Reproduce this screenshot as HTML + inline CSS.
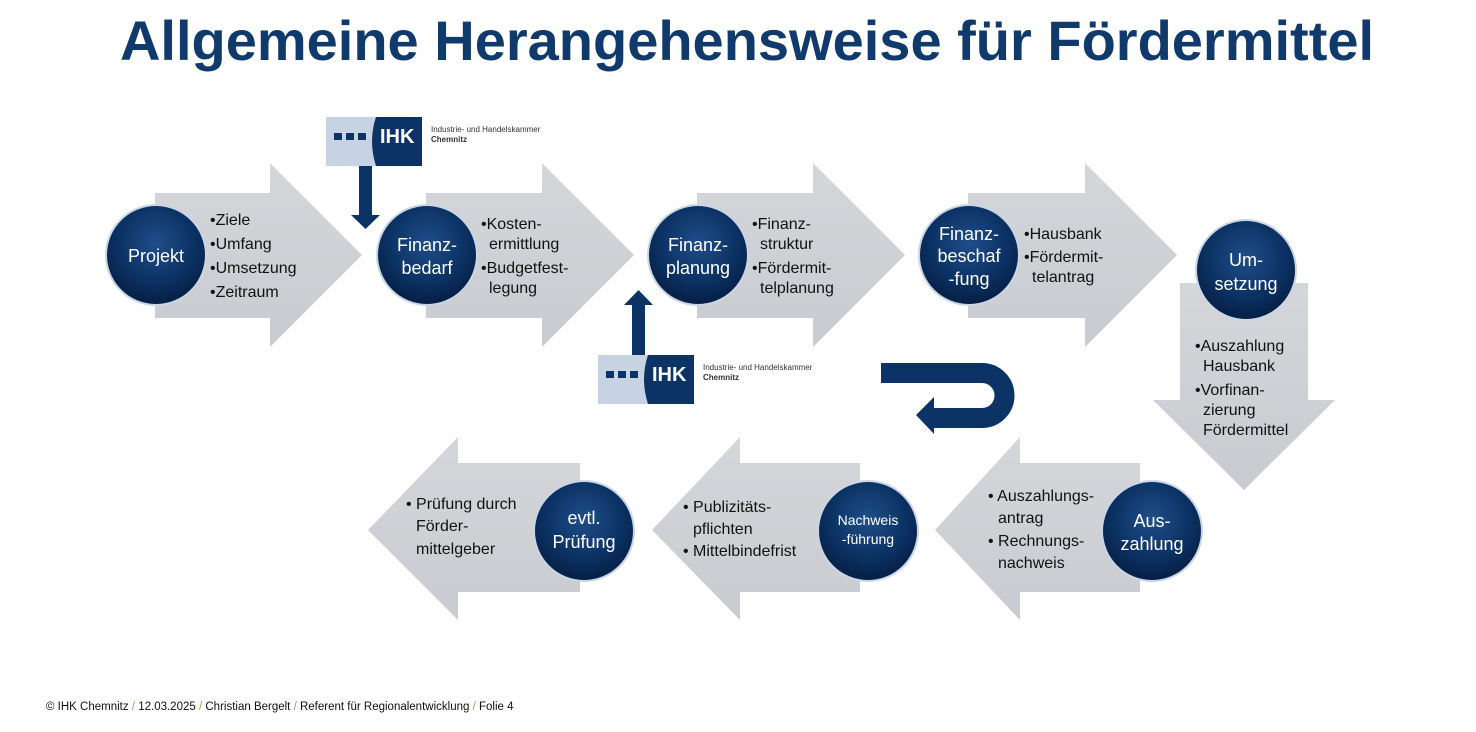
<!DOCTYPE html>
<html><head><meta charset="utf-8"><style>
html,body{margin:0;padding:0;background:#fff;width:1476px;height:732px;overflow:hidden}
svg text{font-family:"Liberation Sans",sans-serif}
</style></head><body>
<svg width="1476" height="732" viewBox="0 0 1476 732" xmlns="http://www.w3.org/2000/svg">
<defs>
<radialGradient id="cg" cx="50%" cy="38%" r="62%">
<stop offset="0" stop-color="#1f4e8a"/><stop offset="0.6" stop-color="#0c3366"/><stop offset="1" stop-color="#061f45"/>
</radialGradient>
<linearGradient id="ag" x1="0" y1="0" x2="0" y2="1"><stop offset="0" stop-color="#d4d6da"/><stop offset="1" stop-color="#c9cbd0"/></linearGradient>
<g id="circ"><circle r="51" fill="#c9d6e6"/><circle r="49" fill="url(#cg)"/></g>
<g id="logo">
<rect x="0" y="0" width="96" height="49" fill="#c7d3e2"/>
<path d="M50,0 H96 V49 H50 Q42,24 50,0 Z" fill="#0c3366"/>
<rect x="8" y="16" width="8" height="7" fill="#0c3366"/><rect x="20" y="16" width="8" height="7" fill="#0c3366"/><rect x="32" y="16" width="8" height="7" fill="#0c3366"/>
<text x="54" y="26" font-size="20" font-weight="bold" fill="#fff">IHK</text>
<text x="105" y="15" font-size="8" fill="#333">Industrie- und Handelskammer</text>
<text x="105" y="25" font-size="8" font-weight="bold" fill="#333">Chemnitz</text>
</g>
</defs>

<text x="747" y="60" text-anchor="middle" font-size="56" font-weight="bold" fill="#0f3a6b">Allgemeine Herangehensweise für Fördermittel</text>

<g fill="url(#ag)">
<polygon points="155,193 270,193 270,163 362,255 270,347 270,318 155,318"/>
<polygon points="426,193 542,193 542,163 634,255 542,347 542,318 426,318"/>
<polygon points="697,193 813,193 813,163 905,255 813,347 813,318 697,318"/>
<polygon points="968,193 1085,193 1085,163 1177,255 1085,347 1085,318 968,318"/>
<polygon points="1180,283 1308,283 1308,400 1335,400 1244,490 1153,400 1180,400"/>
<polygon points="1140,463 1020,463 1020,437 935,530 1020,620 1020,592 1140,592"/>
<polygon points="860,463 740,463 740,437 652,530 740,620 740,592 860,592"/>
<polygon points="580,463 458,463 458,437 368,530 458,620 458,592 580,592"/>
</g>

<use href="#logo" x="326" y="117"/>
<rect x="359" y="166" width="13" height="50" fill="#0c3366"/>
<polygon points="351,215 380,215 365.5,229" fill="#0c3366"/>
<use href="#logo" x="598" y="355"/>
<rect x="632" y="304" width="13" height="51" fill="#0c3366"/>
<polygon points="624,305 653,305 638.5,290" fill="#0c3366"/>

<path d="M881,373 H982 A22.5,22.5 0 0 1 982,418 H932" fill="none" stroke="#0c3366" stroke-width="20"/>
<polygon points="934,397 934,434 916,415" fill="#0c3366"/>

<use href="#circ" x="156" y="255"/>
<use href="#circ" x="427" y="255"/>
<use href="#circ" x="698" y="255"/>
<use href="#circ" x="969" y="255"/>
<use href="#circ" x="1246" y="270"/>
<use href="#circ" x="1152" y="531"/>
<use href="#circ" x="868" y="531"/>
<use href="#circ" x="584" y="531"/>

<g fill="#fff" font-size="18" text-anchor="middle">
<text x="156" y="262">Projekt</text>
<text x="427" y="251">Finanz-</text><text x="427" y="274">bedarf</text>
<text x="698" y="251">Finanz-</text><text x="698" y="274">planung</text>
<text x="969" y="240">Finanz-</text><text x="969" y="262">beschaf</text><text x="969" y="285">-fung</text>
<text x="1246" y="266">Um-</text><text x="1246" y="290">setzung</text>
<text x="1152" y="527">Aus-</text><text x="1152" y="550">zahlung</text>
<text x="868" y="525" font-size="14">Nachweis</text><text x="868" y="544" font-size="14">-führung</text>
<text x="584" y="524">evtl.</text><text x="584" y="548">Prüfung</text>
</g>

<g fill="#111" font-size="16">
<text x="210" y="225">•Ziele</text><text x="210" y="249">•Umfang</text><text x="210" y="273">•Umsetzung</text><text x="210" y="297">•Zeitraum</text>
<text x="481" y="229">•Kosten-</text><text x="489" y="249">ermittlung</text><text x="481" y="273">•Budgetfest-</text><text x="489" y="293">legung</text>
<text x="752" y="229">•Finanz-</text><text x="760" y="249">struktur</text><text x="752" y="273">•Fördermit-</text><text x="760" y="293">telplanung</text>
<text x="1024" y="239">•Hausbank</text><text x="1024" y="262">•Fördermit-</text><text x="1032" y="282">telantrag</text>
<text x="1195" y="351">•Auszahlung</text><text x="1203" y="371">Hausbank</text><text x="1195" y="395">•Vorfinan-</text><text x="1203" y="415">zierung</text><text x="1203" y="435">Fördermittel</text>
<text x="988" y="501">• Auszahlungs-</text><text x="998" y="523">antrag</text><text x="988" y="546">• Rechnungs-</text><text x="998" y="568">nachweis</text>
<text x="683" y="512">• Publizitäts-</text><text x="693" y="534">pflichten</text><text x="683" y="556">• Mittelbindefrist</text>
<text x="406" y="509">• Prüfung durch</text><text x="416" y="531">Förder-</text><text x="416" y="554">mittelgeber</text>
</g>

<text x="46" y="710" font-size="11.5" fill="#111">© IHK Chemnitz  <tspan fill="#7ab648">/</tspan>  12.03.2025  <tspan fill="#7ab648">/</tspan>  Christian Bergelt  <tspan fill="#7ab648">/</tspan>  Referent für Regionalentwicklung  <tspan fill="#7ab648">/</tspan>  Folie 4</text>
</svg>
</body></html>
